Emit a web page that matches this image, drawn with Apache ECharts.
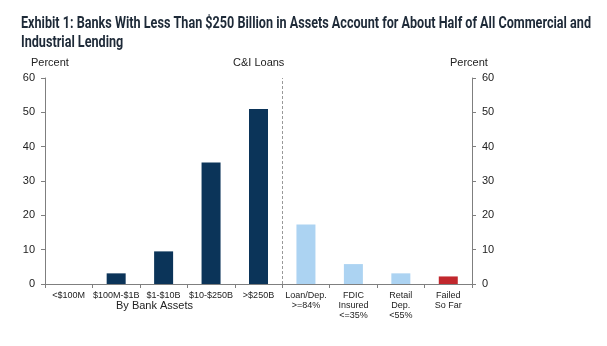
<!DOCTYPE html>
<html><head><meta charset="utf-8">
<script src="https://cdn.jsdelivr.net/npm/echarts@6/dist/echarts.min.js"></script>
<style>html,body{margin:0;padding:0;background:#fff}#c{width:607px;height:346px}</style>
</head><body><div id="c"></div>
<script>
const categories = ['<$100M','$100M-$1B','$1-$10B','$10-$250B','>$250B','Loan/Dep.\n>=84%','FDIC\nInsured\n<=35%','Retail\nDep.\n<55%','Failed\nSo Far'];
const values = [0, 3.1, 9.5, 35.4, 51.0, 17.3, 5.8, 3.1, 2.2];
const groups = ['assets','assets','assets','assets','assets','other','other','other','failed'];
const yTicks = [0, 10, 20, 30, 40, 50, 60];
const titleLines = ['Exhibit 1: Banks With Less Than $250 Billion in Assets Account for About Half of All Commercial and', 'Industrial Lending'];
const colorMap = {assets:'#0b3459', other:'#acd3f2', failed:'#c1272d'};

const titleFont = 'bold 16px Roboto';
const mctx = document.createElement('canvas').getContext('2d');
mctx.font = titleFont;
const titleScale = 570 / mctx.measureText(titleLines[0]).width;

const chart = echarts.init(document.getElementById('c'), null, {renderer:'canvas'});
const axisColor = '#7f7f7f';
const labelFont = 'Liberation Sans, Arial';
const yAxisBase = {
  type:'value', min:yTicks[0], max:yTicks[yTicks.length-1], interval:10,
  splitLine:{show:false},
  axisLine:{show:true, lineStyle:{color:axisColor}},
  axisTick:{show:true, length:4, lineStyle:{color:axisColor}},
  axisLabel:{color:'#222', fontFamily:labelFont, fontSize:11, margin:10}
};
chart.setOption({
  animation:false,
  grid:{left:45, right:135, top:78, bottom:62},
  xAxis:[{
    type:'category', data:categories,
    axisLine:{lineStyle:{color:axisColor}},
    axisTick:{show:true, length:4, lineStyle:{color:axisColor}},
    axisLabel:{interval:0, color:'#222', fontFamily:labelFont, fontSize:9, lineHeight:10, margin:7}
  },{
    type:'value', min:0, max:9, show:false
  }],
  yAxis:[
    Object.assign({}, yAxisBase, {position:'left'}),
    Object.assign({}, yAxisBase, {position:'right'})
  ],
  series:[{
    type:'bar', barWidth:19, xAxisIndex:0, yAxisIndex:0,
    data: values.map((v,i)=>({value:v, itemStyle:{color:colorMap[groups[i]]}}))
  },{
    type:'line', xAxisIndex:1, yAxisIndex:0, data:[], symbol:'none',
    markLine:{silent:true, symbol:'none', label:{show:false},
      lineStyle:{type:[3,2], color:'#999', width:1},
      data:[[{coord:[5,0]},{coord:[5,60]}]]}
  }],
  graphic:[
    {type:'text', x:21, y:16, scaleX:titleScale, style:{text:titleLines[0], font:titleFont, fill:'#1e2a38'}},
    {type:'text', x:21, y:35, scaleX:titleScale, style:{text:titleLines[1], font:titleFont, fill:'#1e2a38'}},
    {type:'text', x:31, y:57, style:{text:'Percent', fontFamily:labelFont, fontSize:11, fill:'#222'}},
    {type:'text', x:450, y:57, style:{text:'Percent', fontFamily:labelFont, fontSize:11, fill:'#222'}},
    {type:'text', x:233, y:57, style:{text:'C&I Loans', fontFamily:labelFont, fontSize:11, fill:'#222'}},
    {type:'text', x:116, y:300, style:{text:'By Bank Assets', fontFamily:labelFont, fontSize:11, fill:'#222'}}
  ]
});
</script></body></html>
